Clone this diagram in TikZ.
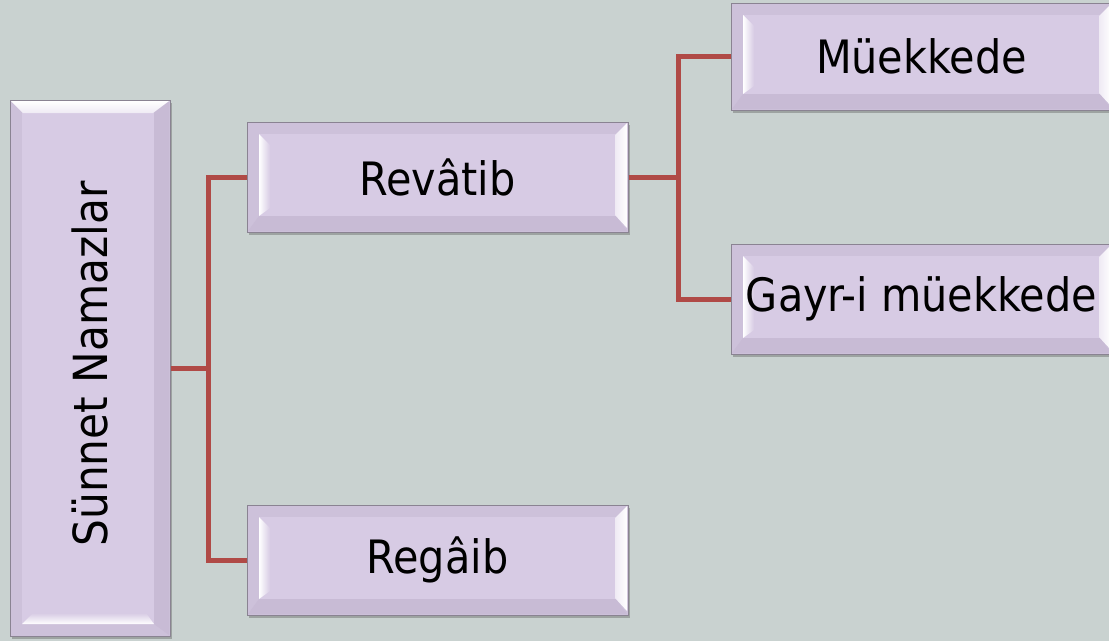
\documentclass[tikz,border=0pt]{standalone}
\usepackage{fontspec}
\setmainfont{DejaVu Sans Condensed}
\usetikzlibrary{calc,shadows}
\definecolor{bg}{HTML}{C9D2D0}
\definecolor{base}{HTML}{D7CBE4}
\definecolor{frame}{HTML}{CDC1DA}
\definecolor{dark}{HTML}{C8BBD5}
\definecolor{edge}{HTML}{8A8392}
\definecolor{link}{HTML}{B04A46}
\tikzset{
  box/.style={draw=edge, line width=1pt, fill=frame, inner sep=0pt,
    font=\fontsize{46}{50}\selectfont,
    drop shadow={shadow xshift=2pt, shadow yshift=-3pt, fill=black!70, opacity=.35}},
  bevelh/.style={box, path picture={
    \coordinate (NW) at (path picture bounding box.north west);
    \coordinate (NE) at (path picture bounding box.north east);
    \coordinate (SW) at (path picture bounding box.south west);
    \coordinate (SE) at (path picture bounding box.south east);
    \fill[base] ($(NW)+(12,12)$) rectangle ($(SE)+(-12,-16)$);
    \fill[dark] ($(SW)+(1,-1)$) -- ($(SE)+(-1,-1)$) -- ($(SE)+(-12,-16)$) -- ($(SW)+(12,-16)$) -- cycle;
    \shade[left color=white, middle color=white, right color=base]
      ($(NW)+(12,12)$) -- ($(NW)+(23,23)$) -- ($(SW)+(23,-24)$) -- ($(SW)+(12,-16)$) -- cycle;
    \shade[left color=base!40!white, right color=white]
      ($(NE)+(-13,13)$) -- ($(NE)+(-1,1)$) -- ($(SE)+(-1,-4)$) -- ($(SE)+(-13,-17)$) -- cycle;
  }},
  bevelv/.style={box, path picture={
    \coordinate (NW) at (path picture bounding box.north west);
    \coordinate (NE) at (path picture bounding box.north east);
    \coordinate (SW) at (path picture bounding box.south west);
    \coordinate (SE) at (path picture bounding box.south east);
    \fill[base] ($(NW)+(12,12)$) rectangle ($(SE)+(-16,-12)$);
    \fill[dark] ($(NE)+(-1,1)$) -- ($(SE)+(-1,-1)$) -- ($(SE)+(-16,-12)$) -- ($(NE)+(-16,12)$) -- cycle;
    \shade[bottom color=white, middle color=white, top color=base]
      ($(SW)+(12,-12)$) -- ($(SW)+(23,-23)$) -- ($(SE)+(-24,-23)$) -- ($(SE)+(-16,-12)$) -- cycle;
    \shade[bottom color=base!40!white, top color=white]
      ($(NW)+(1,1)$) -- ($(NE)+(-1,1)$) -- ($(NE)+(-17,13)$) -- ($(NW)+(13,13)$) -- cycle;
  }},
  conn/.style={draw=link, line width=5pt}
}
\begin{document}
\begin{tikzpicture}[x=1pt,y=-1pt]
\fill[bg] (0,0) rectangle (1109,641);
\useasboundingbox (0,0) rectangle (1109,641);
\node[bevelv, minimum width=160pt, minimum height=536pt] (sun) at (90,368) {};
\node[rotate=90, font=\fontsize{47}{50}\selectfont, inner sep=0pt] (suntext) at (90,364) {Sünnet Namazlar};
\node[bevelh, minimum width=381pt, minimum height=110pt] (rev) at (437.5,177) {Revâtib};
\node[bevelh, minimum width=381pt, minimum height=110pt] (reg) at (437.5,560) {Regâib};
\node[bevelh, minimum width=381pt, minimum height=107pt] (mue) at (921.5,56.5) {Müekkede};
\node[bevelh, minimum width=381pt, minimum height=110pt] (gay) at (921.5,299) {Gayr-i müekkede};
\coordinate (j1) at (208,368);
\coordinate (j2) at (678,177);
\draw[conn] (sun.east) -- (j1);
\draw[conn] (j1) |- (rev.west);
\draw[conn] (j1) |- (reg.west);
\draw[conn] (rev.east) -- (j2);
\draw[conn] (j2) |- (mue.west);
\draw[conn] (j2) |- (gay.west);
\end{tikzpicture}
\end{document}
